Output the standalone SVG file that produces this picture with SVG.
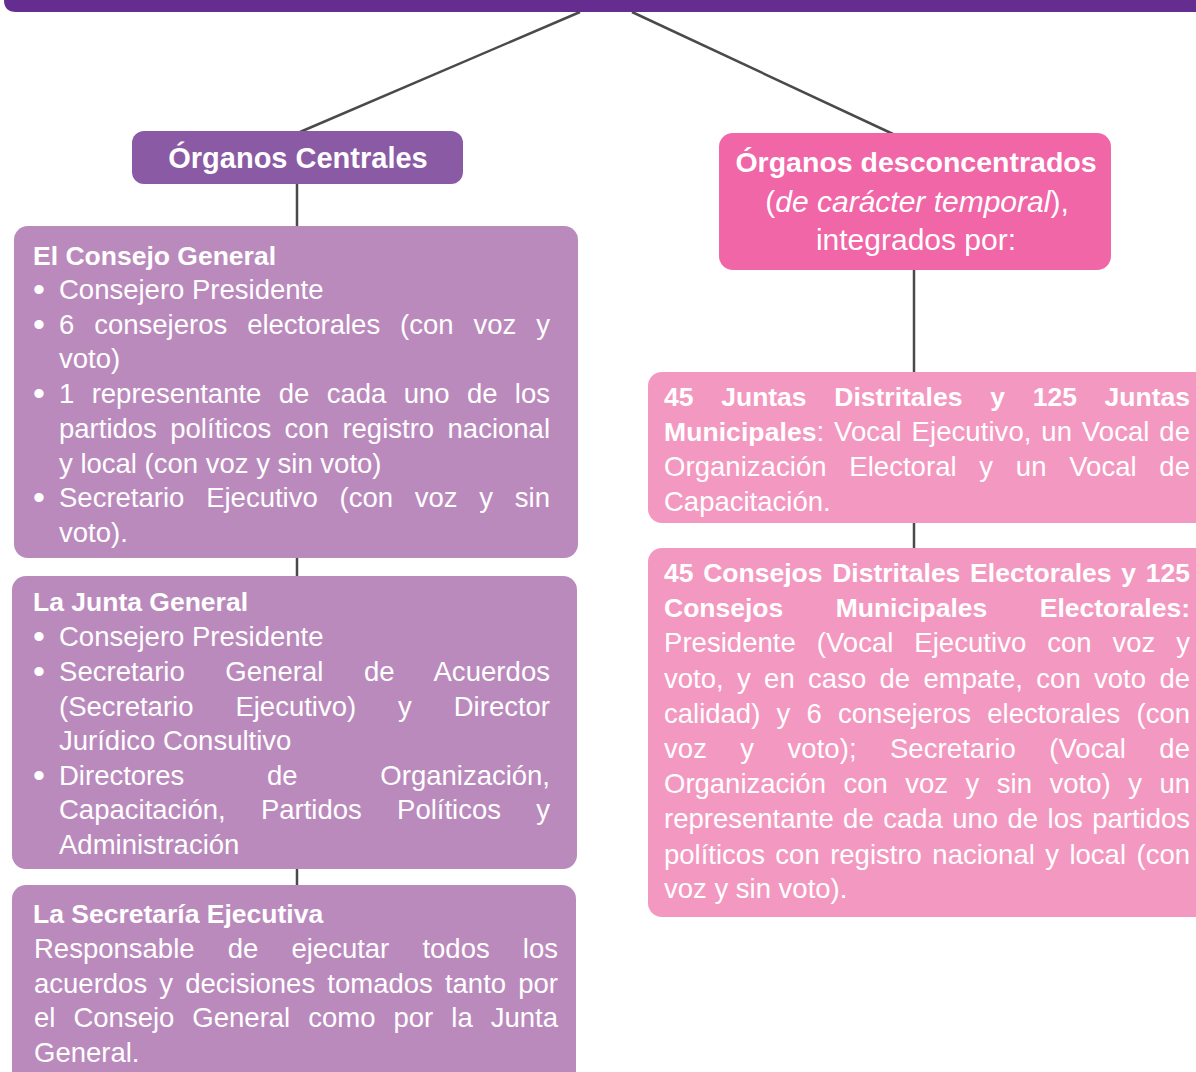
<svg xmlns="http://www.w3.org/2000/svg" width="1196" height="1072" viewBox="0 0 1196 1072">
<style>
.t{font-family:"Liberation Sans",Arial,sans-serif;font-size:27.5px;fill:#ffffff}
.b{font-weight:bold;font-size:26.5px}
.bl{font-family:"Liberation Sans",Arial,sans-serif;font-size:34px;fill:#ffffff}
.conn{stroke:#4a4a4a;stroke-width:2.5;fill:none}
.dark{fill:#8b5aa5}
.lil{fill:#bb8abd}
.hot{fill:#f066a7}
.pink{fill:#f399c1}
</style>
<rect width="1196" height="1072" fill="#ffffff"/>
<g id="top-bar"><path d="M4 0 H1196 V12 H16 Q4 12 4 0 Z" fill="#662d91"/></g>
<g id="connectors">
<line class="conn" x1="580" y1="12" x2="300" y2="132"/>
<line class="conn" x1="632" y1="12" x2="893" y2="134"/>
<line class="conn" x1="297" y1="184" x2="297" y2="227"/>
<line class="conn" x1="297" y1="558" x2="297" y2="577"/>
<line class="conn" x1="297" y1="869" x2="297" y2="886"/>
<line class="conn" x1="914" y1="270" x2="914" y2="373"/>
<line class="conn" x1="914" y1="523" x2="914" y2="549"/>
</g>
<g id="organos-centrales">
<rect class="dark" x="132" y="131" width="331" height="53" rx="12"/>
<text class="t b" style="font-size:29px" x="298" y="168" text-anchor="middle">Órganos Centrales</text>
</g>
<g id="consejo-general">
<rect class="lil" x="14" y="226" width="564" height="332" rx="14"/>
<text class="t b" x="33" y="265">El Consejo General</text>
<text class="bl" x="33" y="301">•</text><text class="t" x="59" y="299">Consejero Presidente</text>
<text class="bl" x="33" y="336">•</text>
<text class="t" x="59" y="334" word-spacing="12.3" textLength="491" lengthAdjust="spacing">6 consejeros electorales (con voz y</text>
<text class="t" x="59" y="368">voto)</text>
<text class="bl" x="33" y="405">•</text>
<text class="t" x="59" y="403" word-spacing="9.7" textLength="491" lengthAdjust="spacing">1 representante de cada uno de los</text>
<text class="t" x="59" y="438" word-spacing="5.8" textLength="491" lengthAdjust="spacing">partidos políticos con registro nacional</text>
<text class="t" x="59" y="473">y local (con voz y sin voto)</text>
<text class="bl" x="33" y="509">•</text>
<text class="t" x="59" y="507" word-spacing="14.1" textLength="491" lengthAdjust="spacing">Secretario Ejecutivo (con voz y sin</text>
<text class="t" x="59" y="542">voto).</text>
</g>
<g id="junta-general">
<rect class="lil" x="12" y="576" width="565" height="293" rx="14"/>
<text class="t b" x="33" y="611">La Junta General</text>
<text class="bl" x="33" y="648">•</text><text class="t" x="59" y="646">Consejero Presidente</text>
<text class="bl" x="33" y="683">•</text>
<text class="t" x="59" y="681" word-spacing="32.7" textLength="491" lengthAdjust="spacing">Secretario General de Acuerdos</text>
<text class="t" x="59" y="716" word-spacing="34.3" textLength="491" lengthAdjust="spacing">(Secretario Ejecutivo) y Director</text>
<text class="t" x="59" y="750">Jurídico Consultivo</text>
<text class="bl" x="33" y="787">•</text>
<text class="t" x="59" y="785" word-spacing="75.1" textLength="491" lengthAdjust="spacing">Directores de Organización,</text>
<text class="t" x="59" y="819" word-spacing="27.6" textLength="491" lengthAdjust="spacing">Capacitación, Partidos Políticos y</text>
<text class="t" x="59" y="854">Administración</text>
</g>
<g id="secretaria-ejecutiva">
<rect class="lil" x="12" y="885" width="564" height="205" rx="14"/>
<text class="t b" x="33" y="923">La Secretaría Ejecutiva</text>
<text class="t" x="34" y="958" word-spacing="25.5" textLength="524" lengthAdjust="spacing">Responsable de ejecutar todos los</text>
<text class="t" x="34" y="993" word-spacing="4.5" textLength="524" lengthAdjust="spacing">acuerdos y decisiones tomados tanto por</text>
<text class="t" x="34" y="1027" word-spacing="10.4" textLength="524" lengthAdjust="spacing">el Consejo General como por la Junta</text>
<text class="t" x="34" y="1062">General.</text>
</g>
<g id="organos-desconcentrados">
<rect class="hot" x="719" y="133" width="392" height="137" rx="14"/>
<text class="t b" style="font-size:28.5px" x="916" y="172" text-anchor="middle">Órganos desconcentrados</text>
<text class="t" style="font-size:30px" x="917" y="212" text-anchor="middle">(<tspan font-style="italic">de carácter temporal</tspan>),</text>
<text class="t" style="font-size:30px" x="916" y="250" text-anchor="middle">integrados por:</text>
</g>
<g id="juntas-distritales">
<rect class="pink" x="648" y="372" width="570" height="151" rx="14"/>
<text class="t b" x="664" y="406" word-spacing="20.4" textLength="526" lengthAdjust="spacing">45 Juntas Distritales y 125 Juntas</text>
<text class="t" x="664" y="441" word-spacing="2.1" textLength="526" lengthAdjust="spacing"><tspan class="b">Municipales</tspan>: Vocal Ejecutivo, un Vocal de</text>
<text class="t" x="664" y="476" word-spacing="15" textLength="526" lengthAdjust="spacing">Organización Electoral y un Vocal de</text>
<text class="t" x="664" y="511">Capacitación.</text>
</g>
<g id="consejos-distritales">
<rect class="pink" x="648" y="548" width="570" height="369" rx="14"/>
<text class="t b" x="664" y="582" word-spacing="2.4" textLength="526" lengthAdjust="spacing">45 Consejos Distritales Electorales y 125</text>
<text class="t b" x="664" y="617" word-spacing="45" textLength="526" lengthAdjust="spacing">Consejos Municipales Electorales:</text>
<text class="t" x="664" y="652" word-spacing="13.2" textLength="526" lengthAdjust="spacing">Presidente (Vocal Ejecutivo con voz y</text>
<text class="t" x="664" y="688" word-spacing="5.7" textLength="526" lengthAdjust="spacing">voto, y en caso de empate, con voto de</text>
<text class="t" x="664" y="723" word-spacing="8.6" textLength="526" lengthAdjust="spacing">calidad) y 6 consejeros electorales (con</text>
<text class="t" x="664" y="758" word-spacing="25.7" textLength="526" lengthAdjust="spacing">voz y voto); Secretario (Vocal de</text>
<text class="t" x="664" y="793" word-spacing="9.9" textLength="526" lengthAdjust="spacing">Organización con voz y sin voto) y un</text>
<text class="t" x="664" y="828" word-spacing="1.8" textLength="526" lengthAdjust="spacing">representante de cada uno de los partidos</text>
<text class="t" x="664" y="864" word-spacing="2.8" textLength="526" lengthAdjust="spacing">políticos con registro nacional y local (con</text>
<text class="t" x="664" y="898">voz y sin voto).</text>
</g>
</svg>
